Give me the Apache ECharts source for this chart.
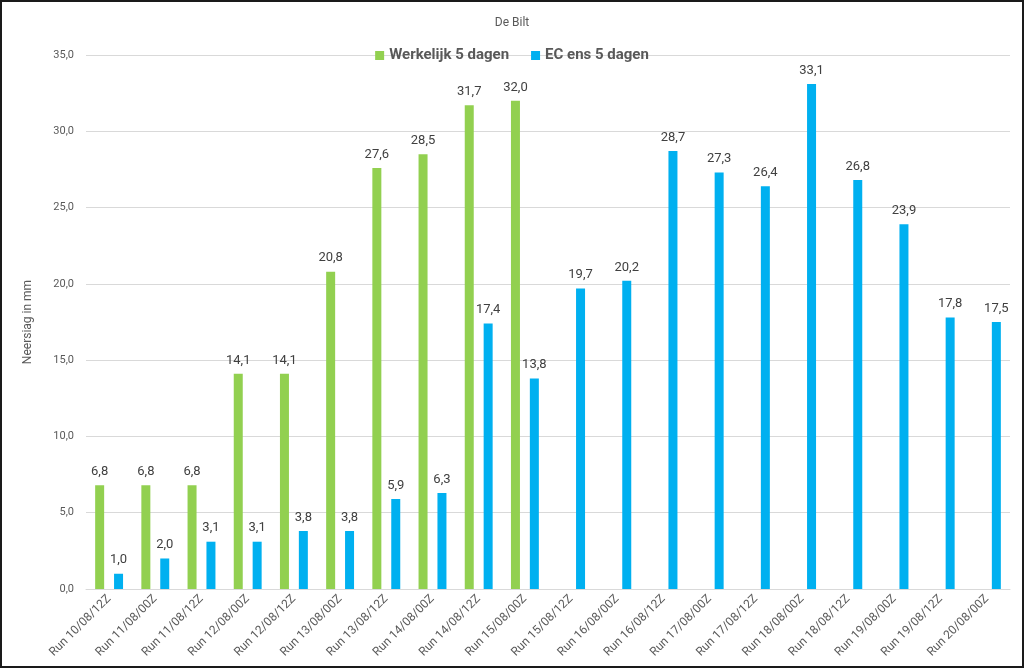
<!DOCTYPE html>
<html>
<head>
<meta charset="utf-8">
<script src="https://cdn.jsdelivr.net/npm/echarts@6/dist/echarts.min.js"></script>
<style>
    html, body { margin: 0; padding: 0; background: #fff; }
    #chart { width: 1020px; height: 664px; border: 2px solid #1a1a1a; }
</style>
</head>
<body>
<div id="chart"></div>
<script>
// data
var runs = ['Run 10/08/12Z', 'Run 11/08/00Z', 'Run 11/08/12Z', 'Run 12/08/00Z', 'Run 12/08/12Z',
    'Run 13/08/00Z', 'Run 13/08/12Z', 'Run 14/08/00Z', 'Run 14/08/12Z', 'Run 15/08/00Z',
    'Run 15/08/12Z', 'Run 16/08/00Z', 'Run 16/08/12Z', 'Run 17/08/00Z', 'Run 17/08/12Z',
    'Run 18/08/00Z', 'Run 18/08/12Z', 'Run 19/08/00Z', 'Run 19/08/12Z', 'Run 20/08/00Z'];
var werkelijk = [6.8, 6.8, 6.8, 14.1, 14.1, 20.8, 27.6, 28.5, 31.7, 32.0,
    null, null, null, null, null, null, null, null, null, null];
var ecEns = [1.0, 2.0, 3.1, 3.1, 3.8, 3.8, 5.9, 6.3, 17.4, 13.8,
    19.7, 20.2, 28.7, 27.3, 26.4, 33.1, 26.8, 23.9, 17.8, 17.5];

var myChart = echarts.init(document.getElementById('chart'));

function komma(v) {
    return v.toFixed(1).replace('.', ',');
}

var labelStyle = {
    show: true,
    position: 'top',
    distance: 7,
    color: '#404040',
    fontSize: 13,
    fontFamily: 'Roboto',
    formatter: function (p) { return komma(p.value); }
};

var option = {
    textStyle: { fontFamily: 'Roboto' },
    title: {
        text: 'De Bilt',
        left: 'center',
        top: 10,
        textStyle: { color: '#595959', fontSize: 12, fontWeight: 'normal' }
    },
    legend: {
        top: 41,
        left: 'center',
        itemWidth: 9,
        itemHeight: 9,
        itemGap: 22,
        icon: 'rect',
        textStyle: { color: '#595959', fontSize: 15, fontWeight: 'bold' },
        data: ['Werkelijk 5 dagen', 'EC ens 5 dagen']
    },
    grid: { left: 84, right: 12, top: 53, bottom: 77 },
    xAxis: {
        type: 'category',
        data: runs,
        axisLine: { lineStyle: { color: '#D9D9D9' } },
        axisTick: { show: false },
        axisLabel: { rotate: 45, color: '#595959', fontSize: 12, interval: 0, margin: 8 }
    },
    yAxis: {
        type: 'value',
        min: 0,
        max: 35,
        interval: 5,
        name: 'Neersiag in mm',
        nameLocation: 'middle',
        nameGap: 52,
        nameTextStyle: { color: '#595959', fontSize: 12 },
        axisLabel: { color: '#595959', fontSize: 11, margin: 12, formatter: komma },
        splitLine: { lineStyle: { color: '#D9D9D9' } }
    },
    series: [
        {
            name: 'Werkelijk 5 dagen',
            type: 'bar',
            barWidth: 9,
            barGap: '110%',
            itemStyle: { color: '#92D050' },
            label: labelStyle,
            data: werkelijk
        },
        {
            name: 'EC ens 5 dagen',
            type: 'bar',
            barWidth: 9,
            itemStyle: { color: '#00B0F0' },
            label: labelStyle,
            data: ecEns
        }
    ]
};

myChart.setOption(option);
</script>
</body>
</html>
